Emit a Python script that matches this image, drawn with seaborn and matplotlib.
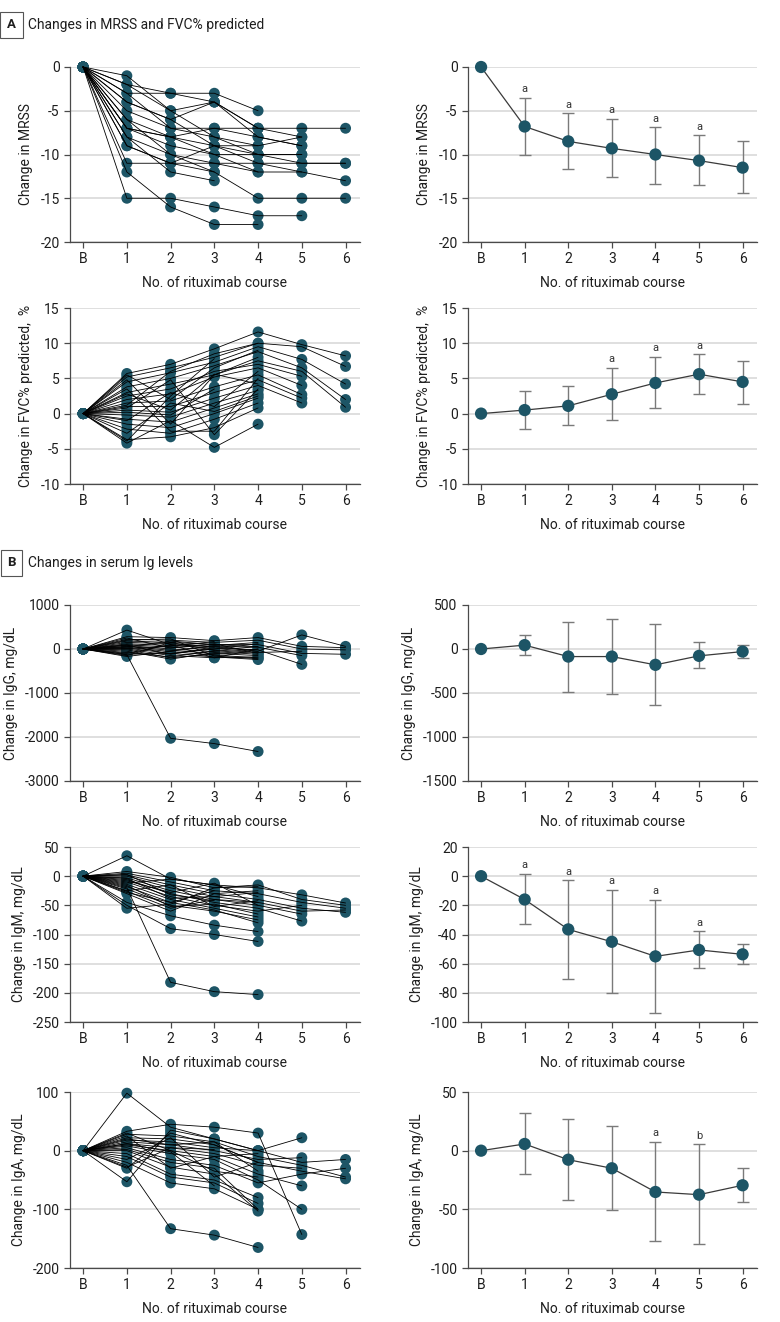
import numpy as np
import pandas as pd
import matplotlib
matplotlib.use("Agg")
import matplotlib.pyplot as plt
import seaborn as sns

nan = np.nan

# ---------------- data ----------------
course_labels = ["B", "1", "2", "3", "4", "5", "6"]
xlabel_text = "No. of rituximab course"

# individual trajectories (B, 1..6)
mrss_patients = [
    [0, -1, -5, -8, -10, -11, -11],
    [0, -2, -3, -4, -7, -8, nan],
    [0, -3, -3, -3, -5, nan, nan],
    [0, -4, -6, -9, -11, -12, -13],
    [0, -5, -7, -7, -7, -7, -7],
    [0, -6, -8, -10, -12, -12, nan],
    [0, -7, -9, -10, -10, -10, nan],
    [0, -8, -10, -11, -12, nan, nan],
    [0, -9, -11, -12, -15, -15, -15],
    [0, -11, -11, -11, -11, -11, -11],
    [0, -12, -16, -18, -18, nan, nan],
    [0, -15, -15, -16, -17, -17, nan],
    [0, -2, -5, -4, -8, -9, nan],
    [0, -3, -7, -8, -9, -8, nan],
    [0, -7, -8, -9, -9, nan, nan],
    [0, -8, -12, -13, nan, nan, nan],
    [0, -6, -10, -12, nan, nan, nan],
    [0, -4, -6, -4, -7, nan, nan],
    [0, -9, -11, -9, -10, -10, nan],
    [0, -7, -8, -7, -8, -9, nan],
]

fvc_patients = [
    [0, 5.7, 7.0, 9.2, 11.6, 9.8, 8.2],
    [0, 5.2, 6.5, 8.0, 10.0, 9.5, 6.7],
    [0, 4.5, 5.8, 7.3, 9.5, 7.7, 4.2],
    [0, 3.8, 5.0, 6.8, 8.8, 6.5, 2.0],
    [0, 3.0, 4.2, 5.5, 7.5, 6.0, 0.9],
    [0, 2.5, 3.5, 6.0, 7.0, 5.3, nan],
    [0, 2.0, 2.8, 5.2, 6.5, 4.0, nan],
    [0, 1.5, 1.8, 3.8, 5.5, 2.7, nan],
    [0, 1.0, 1.0, 3.0, 4.8, 2.2, nan],
    [0, 0.5, 0.2, 2.2, 4.0, 1.5, nan],
    [0, -0.2, -0.5, 1.5, 3.3, nan, nan],
    [0, -0.8, -1.2, 0.8, 2.8, nan, nan],
    [0, -1.5, -2.0, 0.0, 2.2, nan, nan],
    [0, -2.2, -2.8, -0.8, 1.5, nan, nan],
    [0, -3.7, -3.3, -2.0, 0.8, nan, nan],
    [0, -4.2, -1.0, -4.8, -1.5, nan, nan],
    [0, 5.5, 2.0, 6.5, 9.0, nan, nan],
    [0, 4.8, -1.5, 5.5, 8.0, nan, nan],
    [0, 1.2, 6.0, 8.5, 10.0, nan, nan],
    [0, 0.8, 4.8, -3.0, 3.5, nan, nan],
    [0, -1.0, 3.0, 1.0, 6.0, nan, nan],
    [0, 3.5, -2.5, -2.5, 5.0, nan, nan],
    [0, 2.8, 0.5, 5.6, 4.2, nan, nan],
    [0, -2.8, 1.5, 0.3, 2.5, nan, nan],
    [0, 0.2, -0.2, 3.5, nan, nan, nan],
    [0, -3.9, 2.5, 7.8, nan, nan, nan],
]

igg_patients = [
    [0, 430, 100, 50, -50, 320, 60],
    [0, 280, 260, 190, 260, 60, 30],
    [0, 220, 200, 150, 200, 0, -20],
    [0, 180, 150, 100, 100, -100, -120],
    [0, 150, 120, 60, 40, -150, nan],
    [0, 120, 80, 20, -20, -350, nan],
    [0, 100, 40, -20, -80, -50, nan],
    [0, 80, 0, -60, -120, nan, nan],
    [0, 60, -30, -100, -150, nan, nan],
    [0, 40, -60, -140, -200, nan, nan],
    [0, 20, -100, -180, -240, nan, nan],
    [0, 0, -150, -200, -180, nan, nan],
    [0, -20, -200, -120, -60, nan, nan],
    [0, -50, -230, -80, 0, nan, nan],
    [0, -80, -180, -40, 60, nan, nan],
    [0, -120, -100, 0, 120, nan, nan],
    [0, -170, -50, 80, 150, nan, nan],
    [0, -130, -2030, -2150, -2330, nan, nan],
    [0, 250, 20, 120, -100, nan, nan],
    [0, 200, 230, -160, -220, nan, nan],
    [0, 50, 180, 100, 50, nan, nan],
    [0, -100, 100, -200, 0, nan, nan],
    [0, 10, 60, 170, nan, nan, nan],
    [0, 90, -120, 30, nan, nan, nan],
    [0, -150, 150, -30, nan, nan, nan],
]

igm_patients = [
    [0, 35, -5, -15, -20, -32, -46],
    [0, 8, -2, -20, -15, -40, -50],
    [0, 5, -10, -25, -30, -45, -55],
    [0, 2, -15, -30, -40, -55, -62],
    [0, 0, -20, -35, -45, -60, -58],
    [0, -3, -25, -40, -50, -65, nan],
    [0, -6, -30, -45, -55, -77, nan],
    [0, -10, -35, -50, -60, -50, nan],
    [0, -14, -40, -55, -70, nan, nan],
    [0, -18, -45, -58, -80, nan, nan],
    [0, -22, -50, -60, -75, nan, nan],
    [0, -26, -55, -40, -45, nan, nan],
    [0, -30, -60, -30, -25, nan, nan],
    [0, -45, -68, -84, -95, nan, nan],
    [0, -50, -90, -100, -112, nan, nan],
    [0, -20, -182, -198, -203, nan, nan],
    [0, -55, -48, -20, -18, nan, nan],
    [0, -12, -5, -15, -35, nan, nan],
    [0, -8, -28, -12, -50, nan, nan],
    [0, -16, -52, -48, -65, nan, nan],
    [0, -4, -38, -35, -28, nan, nan],
    [0, -25, -15, -52, -42, nan, nan],
    [0, -28, -45, -25, nan, nan, nan],
    [0, 3, -32, -42, nan, nan, nan],
]

iga_patients = [
    [0, 98, 40, 20, 0, -20, -15],
    [0, 33, 45, 40, 30, -143, nan],
    [0, 28, 25, 15, -10, -25, -45],
    [0, 22, 20, 10, -20, -35, -48],
    [0, 18, 15, 5, 0, 22, nan],
    [0, 15, 10, 0, -15, -12, nan],
    [0, 12, 5, -5, -25, -30, nan],
    [0, 10, 0, -10, -40, -60, nan],
    [0, 8, -5, -15, -50, -100, nan],
    [0, 5, -15, -25, -55, -40, -30],
    [0, 2, -20, -30, -100, nan, nan],
    [0, 0, -28, -40, -103, nan, nan],
    [0, -5, -40, -50, -80, nan, nan],
    [0, -10, -45, -55, -90, nan, nan],
    [0, -20, -55, -65, -100, nan, nan],
    [0, -25, -133, -144, -165, nan, nan],
    [0, -30, 30, 10, -20, nan, nan],
    [0, -53, 35, 20, 0, nan, nan],
    [0, 25, -30, -10, -5, nan, nan],
    [0, 30, 0, -35, -45, nan, nan],
    [0, 20, 10, 15, -35, nan, nan],
    [0, -15, 22, -45, -20, nan, nan],
    [0, 12, -2, -60, nan, nan, nan],
    [0, -28, 5, 2, nan, nan, nan],
]

# summary (mean with lower / upper bounds), B..6
mrss_mean = [0, -6.8, -8.5, -9.3, -10.0, -10.7, -11.5]
mrss_low = [nan, -10.0, -11.7, -12.6, -13.4, -13.5, -14.4]
mrss_high = [nan, -3.5, -5.3, -5.9, -6.9, -7.8, -8.5]
mrss_sig = ["", "a", "a", "a", "a", "a", ""]

fvc_mean = [0, 0.5, 1.1, 2.75, 4.35, 5.6, 4.5]
fvc_low = [nan, -2.2, -1.6, -0.85, 0.8, 2.8, 1.4]
fvc_high = [nan, 3.2, 3.9, 6.5, 8.1, 8.4, 7.5]
fvc_sig = ["", "", "", "a", "a", "a", ""]

igg_mean = [0, 44, -86, -86, -180, -78, -29]
igg_low = [nan, -70, -489, -508, -640, -218, -100]
igg_high = [nan, 154, 306, 337, 287, 85, 44]
igg_sig = ["", "", "", "", "", "", ""]

igm_mean = [0, -16, -36.5, -45, -55, -50.6, -53.6]
igm_low = [nan, -33, -70.7, -79.8, -93.7, -63.1, -60.4]
igm_high = [nan, 1.8, -2.7, -9.2, -16, -37.9, -46.7]
igm_sig = ["", "a", "a", "a", "a", "a", ""]

iga_mean = [0, 5.7, -7.7, -15, -35.2, -37.5, -29.5]
iga_low = [nan, -20, -42, -50.6, -77, -79.5, -44]
iga_high = [nan, 32, 27, 21.3, 7.4, 5.4, -14.5]
iga_sig = ["", "", "", "", "a", "b", ""]

# ---------------- style ----------------
sns.set_theme(style="white")
plt.rcParams["font.family"] = ["Roboto", "DejaVu Sans"]
plt.rcParams["axes.unicode_minus"] = False

DOT = "#1d5566"
SPINE = "#4a4a4a"
GRID = "#dcdcdc"
ERR = "#7a7a7a"
TXT = "#1e1e1e"
FS_TICK = 10
FS_LAB = 10

W, H = 780, 1322
fig = plt.figure(figsize=(W / 100, H / 100), dpi=100)

rows_px = [(67, 242), (308, 484), (605, 781), (847, 1022), (1092, 1268)]
left_x = (70, 360)
right_x = (468, 757)


def make_ax(xr, yr):
    return fig.add_axes([xr[0] / W, 1 - yr[1] / H, (xr[1] - xr[0]) / W, (yr[1] - yr[0]) / H])


def to_long(trajs):
    rows = []
    for p, tr in enumerate(trajs):
        for c, v in enumerate(tr):
            if not np.isnan(v):
                rows.append({"patient": p, "course": c, "value": v})
    return pd.DataFrame(rows)


def style_axes(ax, yticks, ylabel):
    ax.set_xlim(-0.3, 6.33)
    ax.set_ylim(yticks[0], yticks[-1])
    ax.set_yticks(yticks)
    ax.set_yticklabels([f"{t:g}" for t in yticks])
    ax.set_xticks(range(7))
    ax.set_xticklabels(course_labels)
    ax.yaxis.grid(True, color=GRID, lw=1.3)
    ax.xaxis.grid(False)
    ax.set_axisbelow(True)
    for s in ["top", "right"]:
        ax.spines[s].set_visible(False)
    for s in ["left", "bottom"]:
        ax.spines[s].set_color(SPINE)
        ax.spines[s].set_linewidth(0.9)
    ax.tick_params(axis="both", which="both", bottom=True, left=True, direction="out",
                   length=4.5, width=0.9, color=SPINE, labelsize=FS_TICK, labelcolor=TXT, pad=3)
    ax.set_ylabel(ylabel, fontsize=FS_LAB, color=TXT, labelpad=5)
    ax.set_xlabel(xlabel_text, fontsize=FS_LAB, color=TXT, labelpad=7)


def spaghetti(ax, trajs):
    df = to_long(trajs)
    sns.scatterplot(data=df, x="course", y="value", ax=ax, color=DOT, s=62,
                    edgecolor="none", linewidth=0, zorder=3, clip_on=False, legend=False)
    sns.lineplot(data=df, x="course", y="value", units="patient", estimator=None, ax=ax,
                 color="black", lw=0.6, zorder=4, legend=False)
    for ln in ax.lines:
        ln.set_clip_on(False)


def summary(ax, mean, low, high, sig, yticks):
    df = pd.DataFrame({"course": range(7), "mean": mean, "low": low, "high": high, "sig": sig})
    e = df.dropna()
    ax.errorbar(e["course"], e["mean"], yerr=[e["mean"] - e["low"], e["high"] - e["mean"]],
                fmt="none", ecolor=ERR, elinewidth=1.0, capsize=4.3, capthick=1.0, zorder=2)
    sns.lineplot(data=df, x="course", y="mean", ax=ax, color="#3a3a3a", lw=0.9, zorder=3, legend=False)
    sns.scatterplot(data=df, x="course", y="mean", ax=ax, color=DOT, s=78, edgecolor="none",
                    linewidth=0, zorder=4, clip_on=False, legend=False)
    span = yticks[-1] - yticks[0]
    for _, r in e.iterrows():
        if r["sig"]:
            ax.text(r["course"], r["high"] + span * 0.02, r["sig"], ha="center", va="bottom",
                    fontsize=8, color="#333333")


panels = [
    (mrss_patients, [-20, -15, -10, -5, 0], (mrss_mean, mrss_low, mrss_high, mrss_sig),
     [-20, -15, -10, -5, 0], "Change in MRSS"),
    (fvc_patients, [-10, -5, 0, 5, 10, 15], (fvc_mean, fvc_low, fvc_high, fvc_sig),
     [-10, -5, 0, 5, 10, 15], "Change in FVC% predicted,  %"),
    (igg_patients, [-3000, -2000, -1000, 0, 1000], (igg_mean, igg_low, igg_high, igg_sig),
     [-1500, -1000, -500, 0, 500], "Change in IgG, mg/dL"),
    (igm_patients, [-250, -200, -150, -100, -50, 0, 50], (igm_mean, igm_low, igm_high, igm_sig),
     [-100, -80, -60, -40, -20, 0, 20], "Change in IgM, mg/dL"),
    (iga_patients, [-200, -100, 0, 100], (iga_mean, iga_low, iga_high, iga_sig),
     [-100, -50, 0, 50], "Change in IgA, mg/dL"),
]

for (trajs, lticks, summ, rticks, ylab), yr in zip(panels, rows_px):
    axl = make_ax(left_x, yr)
    spaghetti(axl, trajs)
    style_axes(axl, lticks, ylab)
    axr = make_ax(right_x, yr)
    summary(axr, *summ, rticks)
    style_axes(axr, rticks, ylab)

# section headers
for letter, title, ypx in [("A", "Changes in MRSS and FVC% predicted", 25),
                           ("B", "Changes in serum Ig levels", 563)]:
    fig.text(11.5 / W, 1 - ypx / H, letter, ha="center", va="center", fontsize=9.5,
             fontweight="bold", color=TXT,
             bbox=dict(boxstyle="square,pad=0.5", fc="white", ec="#555555", lw=0.8))
    fig.text(28 / W, 1 - ypx / H, title, ha="left", va="center", fontsize=10, color=TXT)

fig.savefig("out.png", dpi=100)
